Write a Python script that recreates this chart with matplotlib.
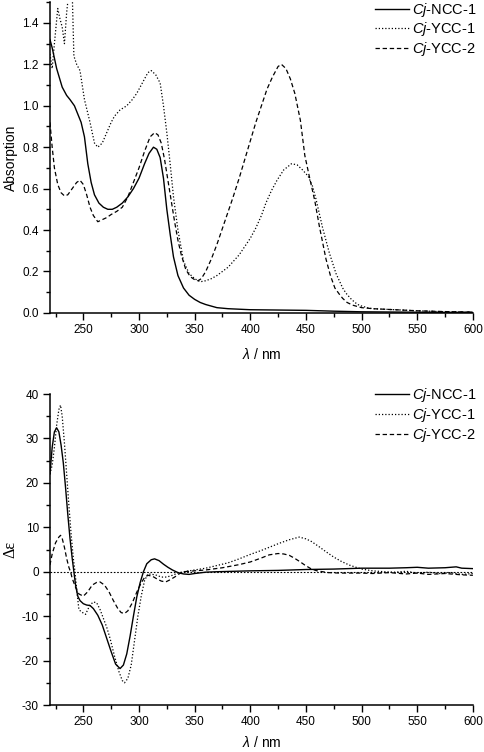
import matplotlib
matplotlib.use('Agg')
import matplotlib.pyplot as plt
from matplotlib.ticker import MultipleLocator

plt.rcParams['font.family'] = ['Liberation Sans', 'DejaVu Sans']
plt.rcParams['mathtext.fontset'] = 'custom'
plt.rcParams['mathtext.rm'] = 'Liberation Sans'
plt.rcParams['mathtext.it'] = 'Liberation Sans:italic'
plt.rcParams['axes.unicode_minus'] = False

labels = ['$\\it{Cj}$-NCC-1', '$\\it{Cj}$-YCC-1', '$\\it{Cj}$-YCC-2']

# --- UV/Vis absorption data ---
wl_abs_ncc1 = [220, 222, 226, 231, 235, 238, 242, 245, 248, 251, 254, 257, 260, 264, 268, 272,
               276, 280, 285, 290, 295, 300, 305, 309, 313, 316, 319, 322, 325, 328, 331, 335,
               340, 345, 350, 355, 360, 370, 380, 400, 450, 475, 500, 550, 600]
abs_ncc1 = [1.32, 1.28, 1.18, 1.09, 1.05, 1.03, 1.00, 0.96, 0.92, 0.85, 0.72, 0.63, 0.57, 0.53,
            0.51, 0.50, 0.50, 0.51, 0.53, 0.56, 0.60, 0.65, 0.72, 0.77, 0.80, 0.79, 0.75, 0.65,
            0.50, 0.38, 0.27, 0.18, 0.12, 0.085, 0.065, 0.05, 0.04, 0.025, 0.02, 0.015, 0.012,
            0.008, 0.005, 0.003, 0.002]

wl_abs_ycc1 = [220, 222, 224, 227, 229, 231, 233, 235, 237, 240, 241.5, 244, 247, 251, 256, 260,
               263, 267, 271, 275, 278, 283, 289, 294, 298, 303, 308, 311, 315, 319, 322, 325,
               328, 331, 335, 340, 345, 350, 355, 360, 365, 370, 380, 390, 400, 405, 410, 414,
               419, 424, 430, 437, 442, 447, 452, 456, 459, 462, 465, 468, 471, 474, 477, 480,
               483, 486, 490, 494, 498, 505, 510, 530, 550, 575, 600]
abs_ycc1 = [1.25, 1.18, 1.30, 1.47, 1.42, 1.38, 1.30, 1.45, 1.55, 1.55, 1.24, 1.20, 1.17, 1.03,
            0.92, 0.82, 0.80, 0.82, 0.87, 0.92, 0.95, 0.98, 1.00, 1.03, 1.06, 1.11, 1.16, 1.17,
            1.15, 1.11, 1.00, 0.87, 0.72, 0.56, 0.40, 0.25, 0.19, 0.165, 0.15, 0.155, 0.165,
            0.18, 0.22, 0.28, 0.36, 0.41, 0.47, 0.53, 0.59, 0.64, 0.69, 0.72, 0.715, 0.69, 0.66,
            0.61, 0.55, 0.48, 0.41, 0.35, 0.29, 0.24, 0.19, 0.155, 0.12, 0.095, 0.07, 0.05,
            0.036, 0.025, 0.02, 0.015, 0.01, 0.005, 0.003]

wl_abs_ycc2 = [220, 222, 224, 227, 230, 233, 236, 240, 244, 247, 250, 253, 256, 259, 263, 267,
               271, 275, 280, 285, 290, 295, 300, 305, 310, 314, 317, 320, 323, 326, 329, 332,
               335, 338, 342, 346, 350, 353, 356, 360, 365, 370, 377, 384, 390, 395, 400, 405,
               410, 415, 420, 425, 428, 432, 436, 440, 445, 449, 453, 458, 462, 465, 468, 472,
               476, 480, 483, 487, 492, 500, 510, 530, 550, 575, 600]
abs_ycc2 = [0.92, 0.80, 0.70, 0.62, 0.58, 0.565, 0.57, 0.60, 0.63, 0.64, 0.62, 0.57, 0.51, 0.47,
            0.44, 0.45, 0.46, 0.475, 0.49, 0.51, 0.56, 0.63, 0.70, 0.78, 0.85, 0.87, 0.86, 0.82,
            0.74, 0.64, 0.54, 0.44, 0.35, 0.28, 0.21, 0.175, 0.16, 0.155, 0.165, 0.20, 0.26,
            0.33, 0.44, 0.55, 0.65, 0.74, 0.83, 0.92, 1.00, 1.08, 1.14, 1.19, 1.20, 1.18, 1.13,
            1.06, 0.93, 0.76, 0.66, 0.54, 0.42, 0.34, 0.26, 0.18, 0.12, 0.09, 0.07, 0.05, 0.037,
            0.025, 0.02, 0.015, 0.01, 0.006, 0.004]

# --- CD data ---
wl_cd_ncc1 = [220, 222, 224, 226, 228, 230, 232, 234, 236, 238, 240, 241.5, 243, 245, 247, 250,
              253, 256, 259, 263, 267, 271, 275, 279, 283, 286, 289, 292, 295, 298, 301, 304,
              307, 311, 314, 318, 322, 326, 330, 335, 340, 345, 350, 360, 370, 385, 400, 425,
              450, 475, 500, 525, 540, 550, 560, 575, 585, 590, 600]
cd_ncc1 = [22, 28, 31.5, 32.4, 31.5, 28.5, 24.5, 19, 13, 7.5, 3, 0, -3, -5.5, -6.5, -7.2, -7.5,
           -7.6, -8.3, -9.8, -12, -15, -18, -20.8, -21.8, -21, -18.5, -14.5, -10, -5.7, -2.5,
           0, 1.8, 2.7, 2.9, 2.5, 1.7, 1.0, 0.4, -0.2, -0.5, -0.6, -0.4, -0.1, 0.0, 0.1, 0.2,
           0.3, 0.5, 0.6, 0.8, 0.8, 0.9, 1.0, 0.8, 0.9, 1.1, 0.8, 0.7]

wl_cd_ycc1 = [220, 222, 224, 226, 228, 229.5, 231, 233, 235, 237, 239, 241, 242.5, 244, 246, 248,
              250, 252, 254, 256, 259, 262, 265, 268, 271, 274, 278, 282, 285, 287, 290, 293,
              296, 299, 302, 305, 308, 312, 316, 320, 325, 330, 335, 340, 350, 360, 370, 380,
              390, 400, 410, 420, 426, 435, 444, 450, 455, 462, 468, 475, 482, 489, 495, 500,
              510, 520, 530, 540, 550, 560, 570, 580, 590, 600]
cd_ycc1 = [22, 24, 28, 33, 36.5, 37.5, 35, 29, 22, 15, 8.5, 3, 0, -4, -8.5, -9, -9.3, -9.6,
           -8.5, -7.5, -6.8, -7, -8.5, -10.5, -12.5, -15, -19, -22.5, -24.5, -25, -24, -21,
           -15.5, -10, -5.5, -2, -0.5, -0.6, -0.8, -1.2, -1.2, -0.8, -0.3, 0.0, 0.4, 0.8, 1.4,
           2.0, 2.9, 3.9, 4.8, 5.8, 6.4, 7.2, 7.8, 7.4, 6.8, 5.6, 4.5, 3.3, 2.3, 1.5, 1.0, 0.6,
           0.2, 0.0, -0.1, 0.1, -0.3, -0.1, -0.4, -0.2, -0.6, -0.4]

wl_cd_ycc2 = [220, 222, 225, 228, 229.5, 231, 233, 235, 237, 238.5, 240, 243, 246, 250, 254,
              258, 262, 265, 269, 273, 277, 281, 284, 287, 290, 294, 298, 302, 305, 308, 312,
              316, 320, 324, 328, 332, 336, 340, 350, 360, 375, 390, 400, 410, 417, 425, 430,
              435, 440, 445, 449, 455, 460, 470, 480, 500, 510, 525, 540, 550, 560, 575, 590, 600]
cd_ycc2 = [1.5, 4, 6.5, 7.8, 8.2, 7.5, 5.5, 3, 1, 0, -1.5, -3.5, -5, -5.5, -4.5, -3, -2.4, -2.3,
           -3, -4.5, -6.5, -8.3, -9.2, -9.4, -8.8, -7, -4.6, -2.5, -1.3, -0.8, -1, -1.6, -2.1,
           -2.3, -1.8, -1.2, -0.5, 0.0, 0.2, 0.4, 0.9, 1.6, 2.2, 3.1, 3.8, 4.1, 4.0, 3.7, 3.0,
           2.2, 1.5, 0.6, 0.2, -0.2, -0.3, -0.3, -0.4, -0.2, -0.5, -0.3, -0.6, -0.4, -0.7, -0.8]

styles = [dict(color='black', lw=1.0, linestyle='-'),
          dict(color='black', lw=0.9, linestyle=(0, (1, 1.6))),
          dict(color='black', lw=0.9, linestyle=(0, (3.5, 2.2)))]

fig = plt.figure(figsize=(4.85, 7.52), dpi=100)
ax1 = fig.add_axes([0.103, 0.584, 0.872, 0.413])
ax2 = fig.add_axes([0.103, 0.0625, 0.872, 0.4135])

ax1.plot(wl_abs_ncc1, abs_ncc1, label=labels[0], **styles[0])
ax1.plot(wl_abs_ycc1, abs_ycc1, label=labels[1], **styles[1])
ax1.plot(wl_abs_ycc2, abs_ycc2, label=labels[2], **styles[2])
ax1.set_ylim(0, 1.5)
ax1.yaxis.set_major_locator(MultipleLocator(0.2))
ax1.yaxis.set_minor_locator(MultipleLocator(0.1))
ax1.set_ylabel('Absorption', fontsize=10)

ax2.axhline(0, color='black', lw=0.8, linestyle=(0, (1.5, 1.5)))
ax2.plot(wl_cd_ncc1, cd_ncc1, label=labels[0], **styles[0])
ax2.plot(wl_cd_ycc1, cd_ycc1, label=labels[1], **styles[1])
ax2.plot(wl_cd_ycc2, cd_ycc2, label=labels[2], **styles[2])
ax2.set_ylim(-30, 40)
ax2.yaxis.set_major_locator(MultipleLocator(10))
ax2.yaxis.set_minor_locator(MultipleLocator(5))
ax2.set_ylabel('Δε', fontsize=11.5, family=['Liberation Serif', 'DejaVu Serif'])

for ax, ly, lp in [(ax1, 1.005, 8), (ax2, 1.025, 5)]:
    ax.set_xlim(220, 600)
    ax.xaxis.set_major_locator(MultipleLocator(50))
    ax.xaxis.set_minor_locator(MultipleLocator(25))
    ax.set_xlabel('$\\lambda$ / nm', fontsize=10, labelpad=lp)
    ax.yaxis.set_label_coords(-0.075, 0.5)
    for s in ['top', 'right']:
        ax.spines[s].set_visible(False)
    for s in ['left', 'bottom']:
        ax.spines[s].set_linewidth(1.1)
    ax.tick_params(which='major', direction='out', length=5, width=1.0, labelsize=8.5, pad=3)
    ax.tick_params(which='minor', direction='out', length=3, width=1.0)
    ax.legend(loc='upper right', bbox_to_anchor=(1.01, ly), frameon=False, fontsize=10.5,
              handlelength=2.3, handletextpad=0.25, labelspacing=0.12,
              borderpad=0, borderaxespad=0)

fig.savefig('out.png', dpi=100)
